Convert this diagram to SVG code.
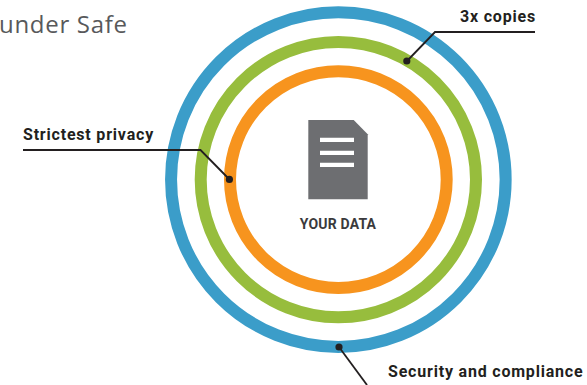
<svg xmlns="http://www.w3.org/2000/svg" width="587" height="385" viewBox="0 0 587 385">
<style>
.ring{fill:none;stroke-width:12}
.lead{fill:none;stroke:#231f20;stroke-width:1.8}
.dot{fill:#231f20}
.lab{font-family:"Roboto","Liberation Sans",sans-serif;font-weight:700;font-size:16px;fill:#231f20;letter-spacing:.8px}
</style>
<rect width="587" height="385" fill="#fff"/>
<text x="-1" y="33" font-family="'Open Sans','Liberation Sans',sans-serif" font-size="24" letter-spacing=".7" fill="#58595b">under Safe</text>
<g id="ring-security"><circle class="ring" cx="338.350" cy="179.600" r="167.300" stroke="#3b9dc9"/></g>
<g id="ring-copies"><circle class="ring" cx="338.350" cy="179.600" r="137.650" stroke="#97bd3d"/></g>
<g id="ring-privacy"><circle class="ring" cx="338.350" cy="179.600" r="108.350" stroke="#f7941e"/></g>
<g id="your-data">
<path d="M308.300 120H353.700L367.700 134.300V199.300H308.300Z" fill="#6d6e71"/>
<path d="M320 137.800h34v4.200h-34zM320 150.800h34v4.200h-34zM320 162.800h34v4.200h-34z" fill="#fff"/>
<text x="338" y="228.500" text-anchor="middle" font-family="Roboto,'Liberation Sans',sans-serif" font-weight="700" font-size="14" letter-spacing=".2" fill="#3a3a3c">YOUR DATA</text>
</g>
<g id="connectors">
<path class="lead" d="M23 150H200.500L229.500 179.500"/><circle class="dot" cx="229.400" cy="179.400" r="3.600"/>
<path class="lead" d="M535 32H435L407 61"/><circle class="dot" cx="406.800" cy="61" r="3.600"/>
<path class="lead" d="M339 347L367 385"/><circle class="dot" cx="339" cy="347" r="3.600"/>
</g>
<g id="label-privacy"><text class="lab" x="23" y="140">Strictest privacy</text></g>
<g id="label-copies"><text class="lab" x="460" y="22">3x copies</text></g>
<g id="label-security"><text class="lab" x="388" y="376.500">Security and compliance</text></g>
</svg>
